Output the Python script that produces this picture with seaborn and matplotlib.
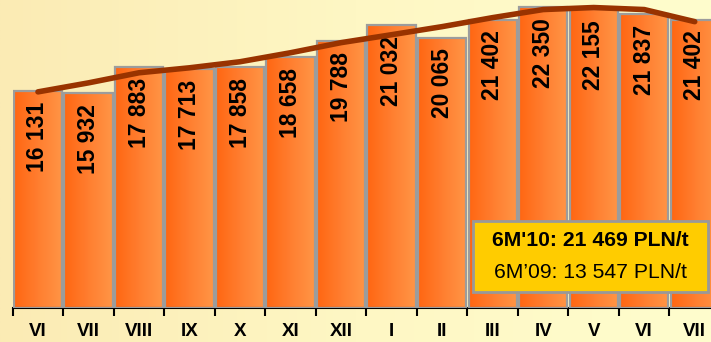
import numpy as np
import pandas as pd
import matplotlib
matplotlib.use("Agg")
import matplotlib.pyplot as plt
from matplotlib.colors import LinearSegmentedColormap
from matplotlib.patches import Rectangle
import seaborn as sns

# Monthly copper price, PLN per tonne
months = ["VI", "VII", "VIII", "IX", "X", "XI", "XII", "I", "II", "III", "IV", "V", "VI", "VII"]
prices = [16131, 15932, 17883, 17713, 17858, 18658, 19788, 21032, 20065, 21402, 22350, 22155, 21837, 21402]
price_labels = ["16 131", "15 932", "17 883", "17 713", "17 858", "18 658", "19 788",
                "21 032", "20 065", "21 402", "22 350", "22 155", "21 837", "21 402"]
# Smoothed trend drawn over the bars
trend = [16030, 16700, 17450, 17820, 18270, 18940, 19690, 20280, 20880, 21550, 22150, 22300, 22150, 21250]
summary_main = "6M'10: 21 469 PLN/t"
summary_prev = "6M\u201909: 13 547 PLN/t"

sns.set_theme(style="white")
plt.rcParams["font.family"] = ["Liberation Sans", "DejaVu Sans"]

W, H = 711, 342
fig = plt.figure(figsize=(W / 100, H / 100), dpi=100)

# pale yellow background with a soft horizontal gradient
bg = fig.add_axes([0, 0, 1, 1], zorder=-5)
bg_cmap = LinearSegmentedColormap.from_list("bg", ["#FBEBB4", "#FEF7C4", "#FFFDCD"])
bg.imshow(np.linspace(0, 1, 256)[None, :], cmap=bg_cmap, aspect="auto", extent=[0, 1, 0, 1])
bg.set_axis_off()

x0, xr, yb = 12.7, 720.0, 307.5
ax = fig.add_axes([x0 / W, (H - yb) / H, (xr - x0) / W, yb / H])
ax.patch.set_alpha(0)

df = pd.DataFrame({"pos": range(len(months)), "price": prices})
sns.barplot(data=df, x="pos", y="price", ax=ax, width=0.955, color="#FF7A2A",
            edgecolor="#9C9C9C", linewidth=1.6, saturation=1)

bar_cmap = LinearSegmentedColormap.from_list("bar", ["#FF6612", "#FF7E30", "#FF9646"])
grad = np.linspace(0, 1, 128)[None, :]
for p in ax.patches:
    bx, by = p.get_x(), p.get_y()
    bw, bh = p.get_width(), p.get_height()
    im = ax.imshow(grad, cmap=bar_cmap, aspect="auto",
                   extent=[bx, bx + bw, by, by + bh], zorder=2)
    im.set_clip_path(p)
    p.set_facecolor("none")
    p.set_zorder(3)

for i, (v, lab) in enumerate(zip(prices, price_labels)):
    ax.annotate(lab, (i, v), xytext=(0, -11), textcoords="offset pixels",
                rotation=90, ha="center", va="top", fontsize=16.5,
                fontweight="bold", color="black", zorder=5)

sns.lineplot(x=list(range(len(months))), y=trend, ax=ax, color="#993300",
             linewidth=4, sort=False, zorder=6)
ax.lines[-1].set_solid_capstyle("round")

ax.set_xlim(-0.5, len(months) - 0.5)
ax.set_ylim(0, 22860)
ax.set_xlabel("")
ax.set_ylabel("")
ax.set_yticks([])
ax.set_xticks(range(len(months)))
ax.set_xticklabels(months, fontsize=13.5, fontweight="bold")
ax.set_xticks(np.arange(-0.5, len(months), 1.0), minor=True)
ax.tick_params(axis="x", which="major", length=0, pad=11, colors="black")
ax.tick_params(axis="x", which="minor", length=6, width=1.5, color="black", bottom=True)
for s in ["top", "right", "left"]:
    ax.spines[s].set_visible(False)
ax.spines["bottom"].set_color("black")
ax.spines["bottom"].set_linewidth(1.5)

# summary box
bx0, by0, bx1, by1 = 473, 221, 708, 292
fig.patches.append(Rectangle((bx0 / W, (H - by1) / H), (bx1 - bx0) / W, (by1 - by0) / H,
                             transform=fig.transFigure, facecolor="#FFCC00",
                             edgecolor="#999999", linewidth=2, zorder=10))
fig.text(590 / W, (H - 240) / H, summary_main, ha="center", va="center",
         fontsize=15.2, fontweight="bold", color="black", zorder=11)
fig.text(590 / W, (H - 272) / H, summary_prev, ha="center", va="center",
         fontsize=15.2, color="black", zorder=11)

fig.savefig("out.png", dpi=100)
